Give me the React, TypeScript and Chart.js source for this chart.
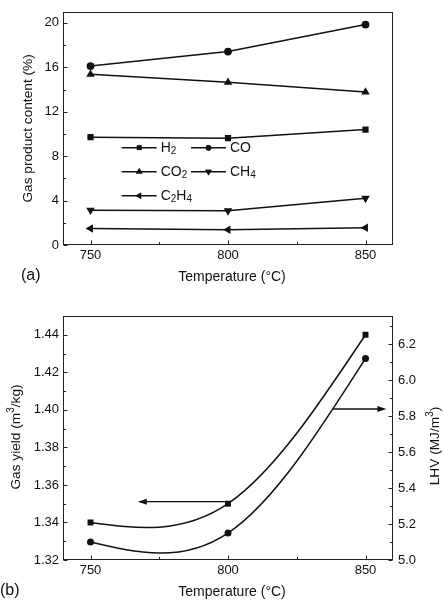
import React, { useEffect, useRef } from 'react';
import { Chart, registerables } from 'chart.js';
import { drawPoint } from 'chart.js/helpers';

Chart.register(...registerables);

// ---------------- data ----------------
const TEMPS = [750, 800, 850];
const H2 = [9.71, 9.62, 10.39];
const CO = [16.11, 17.42, 19.85];
const CO2 = [15.37, 14.65, 13.77];
const CH4 = [3.14, 3.08, 4.21];
const C2H4 = [1.48, 1.37, 1.56];

const GAS_YIELD = [1.34, 1.35, 1.44];
const LHV = [5.1, 5.15, 6.12];

const X_TICKS = [750, 800, 850];
const A_Y_TICKS = [0, 4, 8, 12, 16, 20];
const B_LEFT_TICKS = [1.32, 1.34, 1.36, 1.38, 1.4, 1.42, 1.44];
const B_RIGHT_TICKS = [5.0, 5.2, 5.4, 5.6, 5.8, 6.0, 6.2];

// annotation arrows, in data coordinates [temperature, value]
const ARROW_YIELD_FROM = [799.5, 1.3511];
const ARROW_YIELD_TO = [767.2, 1.3511];
const ARROW_LHV_FROM = [838.1, 5.839];
const ARROW_LHV_TO = [857.6, 5.839];

// ---------------- styles ----------------
const FONT = "'Liberation Sans', Arial, Helvetica, sans-serif";
const INK = '#111';
Chart.defaults.font.family = FONT;

type Part = { t: string; sub?: boolean; sup?: boolean };

function drawRich(ctx: CanvasRenderingContext2D, parts: Part[], x: number, y: number, size: number, align: 'left' | 'center') {
  const small = Math.round(size * 0.7);
  const widths = parts.map((p) => {
    ctx.font = `${p.sub || p.sup ? small : size}px ${FONT}`;
    return ctx.measureText(p.t).width;
  });
  const total = widths.reduce((a, b) => a + b, 0);
  let cx = align === 'center' ? x - total / 2 : x;
  ctx.textAlign = 'left';
  ctx.textBaseline = 'middle';
  parts.forEach((p, i) => {
    ctx.font = `${p.sub || p.sup ? small : size}px ${FONT}`;
    const dy = p.sub ? size * 0.28 : p.sup ? -size * 0.36 : 0;
    ctx.fillText(p.t, cx, y + dy);
    cx += widths[i];
  });
}

function drawRotated(ctx: CanvasRenderingContext2D, parts: Part[], x: number, y: number, size: number) {
  ctx.save();
  ctx.translate(x, y);
  ctx.rotate(-Math.PI / 2);
  drawRich(ctx, parts, 0, 0, size, 'center');
  ctx.restore();
}

function minorValues(major: number[], min: number, max: number) {
  const out: number[] = [];
  const step = major[1] - major[0];
  const cand = [major[0] - step / 2];
  for (let i = 0; i < major.length - 1; i++) cand.push((major[i] + major[i + 1]) / 2);
  cand.push(major[major.length - 1] + step / 2);
  cand.forEach((v) => {
    if (v >= min - 1e-9 && v <= max + 1e-9) out.push(v);
  });
  return out;
}

type AxisSpec = { id: string; side: 'left' | 'right' | 'bottom' };

function drawFrame(chart: any, axes: AxisSpec[]) {
  const { ctx, chartArea: a } = chart;
  ctx.save();
  ctx.strokeStyle = '#222';
  ctx.lineWidth = 1;
  const L = Math.round(a.left) + 0.5;
  const R = Math.round(a.right) - 0.5;
  const T = Math.round(a.top) + 0.5;
  const B = Math.round(a.bottom) - 0.5;
  ctx.strokeRect(L, T, R - L, B - T);
  axes.forEach((ax) => {
    const s = chart.scales[ax.id];
    const major = s.ticks.map((t: any) => t.value);
    const minor = minorValues(major, s.min, s.max);
    const draw = (v: number, len: number) => {
      const p = Math.round(s.getPixelForValue(v)) + 0.5;
      ctx.beginPath();
      if (ax.side === 'left') {
        ctx.moveTo(L, p);
        ctx.lineTo(L + len, p);
      } else if (ax.side === 'right') {
        ctx.moveTo(R, p);
        ctx.lineTo(R - len, p);
      } else {
        ctx.moveTo(p, B);
        ctx.lineTo(p, B - len);
      }
      ctx.stroke();
    };
    major.forEach((v: number) => draw(v, 4));
    minor.forEach((v: number) => draw(v, 2.5));
  });
  ctx.restore();
}

function drawArrow(ctx: CanvasRenderingContext2D, x1: number, y1: number, x2: number, y2: number) {
  const ang = Math.atan2(y2 - y1, x2 - x1);
  const c = Math.cos(ang);
  const s = Math.sin(ang);
  const L = 9;
  const W = 3;
  ctx.save();
  ctx.strokeStyle = INK;
  ctx.fillStyle = INK;
  ctx.lineWidth = 1.4;
  ctx.beginPath();
  ctx.moveTo(x1, y1);
  ctx.lineTo(x2 - L * 0.8 * c, y2 - L * 0.8 * s);
  ctx.stroke();
  ctx.beginPath();
  ctx.moveTo(x2, y2);
  ctx.lineTo(x2 - L * c + W * s, y2 - L * s - W * c);
  ctx.lineTo(x2 - L * c - W * s, y2 - L * s + W * c);
  ctx.closePath();
  ctx.fill();
  ctx.restore();
}

// natural cubic spline through the point elements (pixel space; affine-equivalent to data space)
function applyNaturalSpline(pts: any[]) {
  const n = pts.length;
  if (n < 2) return;
  const x = pts.map((p) => p.x);
  const y = pts.map((p) => p.y);
  const h: number[] = [];
  for (let i = 0; i < n - 1; i++) h.push(x[i + 1] - x[i]);
  const M = new Array(n).fill(0);
  const m = n - 2;
  if (m > 0) {
    const a: number[] = [], b: number[] = [], c: number[] = [], d: number[] = [];
    for (let i = 1; i < n - 1; i++) {
      a.push(h[i - 1]);
      b.push(2 * (h[i - 1] + h[i]));
      c.push(h[i]);
      d.push(6 * ((y[i + 1] - y[i]) / h[i] - (y[i] - y[i - 1]) / h[i - 1]));
    }
    for (let i = 1; i < m; i++) {
      const w = a[i] / b[i - 1];
      b[i] -= w * c[i - 1];
      d[i] -= w * d[i - 1];
    }
    const sol = new Array(m);
    sol[m - 1] = d[m - 1] / b[m - 1];
    for (let i = m - 2; i >= 0; i--) sol[i] = (d[i] - c[i] * sol[i + 1]) / b[i];
    for (let i = 0; i < m; i++) M[i + 1] = sol[i];
  }
  pts[0].cp1x = x[0];
  pts[0].cp1y = y[0];
  pts[n - 1].cp2x = x[n - 1];
  pts[n - 1].cp2y = y[n - 1];
  for (let i = 0; i < n - 1; i++) {
    const hh = h[i];
    const sl = (y[i + 1] - y[i]) / hh;
    const d0 = sl - (hh * (2 * M[i] + M[i + 1])) / 6;
    const d1 = sl + (hh * (M[i] + 2 * M[i + 1])) / 6;
    pts[i].cp2x = x[i] + hh / 3;
    pts[i].cp2y = y[i] + (d0 * hh) / 3;
    pts[i + 1].cp1x = x[i + 1] - hh / 3;
    pts[i + 1].cp1y = y[i + 1] - (d1 * hh) / 3;
  }
}

const splinePlugin = {
  id: 'naturalSpline',
  beforeDatasetDraw(chart: any, args: any) {
    const meta = chart.getDatasetMeta(args.index);
    if (!meta || !meta.dataset) return;
    applyNaturalSpline(meta.data as any[]);
    meta.dataset._pointsUpdated = true;
    meta.dataset._path = undefined;
  },
};

const tickFont = { size: 13, family: FONT };
const TITLE_SIZE = 14;

function fixedTicks(values: number[]) {
  return (s: any) => {
    s.ticks = values.map((v) => ({ value: v }));
  };
}

function series(values: number[]) {
  return TEMPS.map((t, i) => ({ x: t, y: values[i] }));
}

function ds(label: string, values: number[], pointStyle: string, radius: number, rotation = 0, extra: any = {}) {
  return {
    label,
    data: series(values),
    borderColor: INK,
    backgroundColor: INK,
    borderWidth: 1.5,
    pointStyle,
    pointRadius: radius,
    pointRotation: rotation,
    pointBorderWidth: 0,
    pointBackgroundColor: INK,
    tension: 0,
    ...extra,
  };
}

// legend entries of panel (a)
const LEGEND_A = [
  { parts: [{ t: 'H' }, { t: '2', sub: true }], style: 'rect', r: 3.3, rot: 0, col: 0, row: 0 },
  { parts: [{ t: 'CO' }], style: 'circle', r: 2.8, rot: 0, col: 1, row: 0 },
  { parts: [{ t: 'CO' }, { t: '2', sub: true }], style: 'triangle', r: 3.8, rot: 0, col: 0, row: 1 },
  { parts: [{ t: 'CH' }, { t: '4', sub: true }], style: 'triangle', r: 3.8, rot: 180, col: 1, row: 1 },
  { parts: [{ t: 'C' }, { t: '2', sub: true }, { t: 'H' }, { t: '4', sub: true }], style: 'triangle', r: 3.8, rot: 270, col: 0, row: 2 },
];

const decorA = {
  id: 'decorA',
  afterDraw(chart: any) {
    const { ctx, chartArea: a } = chart;
    drawFrame(chart, [
      { id: 'x', side: 'bottom' },
      { id: 'y', side: 'left' },
    ]);
    ctx.save();
    ctx.fillStyle = INK;
    drawRotated(ctx, [{ t: 'Gas product content (%)' }], 28, (a.top + a.bottom) / 2, 13.7);
    drawRich(ctx, [{ t: 'Temperature (°C)' }], 232, 277, TITLE_SIZE, 'center');
    drawRich(ctx, [{ t: '(a)' }], 21, 276, 16, 'left');
    // legend
    const colX = [a.left + 58.7, a.left + 128];
    const rowY = [147.7, 171.7, 195.7];
    LEGEND_A.forEach((e) => {
      const x0 = colX[e.col];
      const y0 = rowY[e.row];
      ctx.strokeStyle = INK;
      ctx.lineWidth = 1.5;
      ctx.beginPath();
      ctx.moveTo(x0, y0);
      ctx.lineTo(x0 + 35, y0);
      ctx.stroke();
      ctx.fillStyle = INK;
      drawPoint(ctx, { pointStyle: e.style as any, radius: e.r, rotation: e.rot, borderWidth: 0 }, x0 + 17.5, y0);
      ctx.fill();
      drawRich(ctx, e.parts, x0 + 39, y0, TITLE_SIZE, 'left');
    });
    ctx.restore();
  },
};

const decorB = {
  id: 'decorB',
  afterDraw(chart: any) {
    const { ctx, chartArea: a, scales } = chart;
    drawFrame(chart, [
      { id: 'x', side: 'bottom' },
      { id: 'y', side: 'left' },
      { id: 'y1', side: 'right' },
    ]);
    const sx = scales.x;
    const sy = scales.y;
    const sy1 = scales.y1;
    drawArrow(
      ctx,
      sx.getPixelForValue(ARROW_YIELD_FROM[0]),
      sy.getPixelForValue(ARROW_YIELD_FROM[1]),
      sx.getPixelForValue(ARROW_YIELD_TO[0]),
      sy.getPixelForValue(ARROW_YIELD_TO[1])
    );
    drawArrow(
      ctx,
      sx.getPixelForValue(ARROW_LHV_FROM[0]),
      sy1.getPixelForValue(ARROW_LHV_FROM[1]),
      sx.getPixelForValue(ARROW_LHV_TO[0]),
      sy1.getPixelForValue(ARROW_LHV_TO[1])
    );
    ctx.save();
    ctx.fillStyle = INK;
    drawRotated(ctx, [{ t: 'Gas yield (m' }, { t: '3', sup: true }, { t: '/kg)' }], 16, (a.top + a.bottom) / 2 - 1, 13.7);
    drawRotated(ctx, [{ t: 'LHV (MJ/m' }, { t: '3', sup: true }, { t: ')' }], 435, (a.top + a.bottom) / 2 + 8, 13.7);
    drawRich(ctx, [{ t: 'Temperature (°C)' }], 232, 292.5, TITLE_SIZE, 'center');
    drawRich(ctx, [{ t: '(b)' }], 0, 291, 16, 'left');
    ctx.restore();
  },
};

function xScale(height: number) {
  return {
    type: 'linear' as const,
    min: 740,
    max: 860,
    afterBuildTicks: fixedTicks(X_TICKS),
    afterFit: (s: any) => {
      s.height = height;
    },
    grid: { display: false, drawTicks: false },
    border: { display: false },
    ticks: { font: tickFont, color: INK, padding: 3, maxRotation: 0, autoSkip: false, callback: (v: any) => String(v) },
  };
}

export default function App() {
  const refA = useRef<HTMLCanvasElement>(null);
  const refB = useRef<HTMLCanvasElement>(null);

  useEffect(() => {
    const chartA = new Chart(refA.current as HTMLCanvasElement, {
      type: 'line',
      data: {
        datasets: [
          ds('H2', H2, 'rect', 4.4),
          ds('CO', CO, 'circle', 3.9),
          ds('CO2', CO2, 'triangle', 4.9),
          ds('CH4', CH4, 'triangle', 4.9, 180),
          ds('C2H4', C2H4, 'triangle', 4.9, 270),
        ] as any,
      },
      options: {
        responsive: false,
        animation: false,
        events: [],
        layout: { padding: { left: 0, right: 51, top: 0, bottom: 0 } },
        plugins: { legend: { display: false }, tooltip: { enabled: false } },
        scales: {
          x: xScale(55),
          y: {
            type: 'linear',
            min: 0,
            max: 21,
            afterBuildTicks: fixedTicks(A_Y_TICKS),
            afterFit: (s: any) => {
              s.width = 63;
            },
            grid: { display: false, drawTicks: false },
            border: { display: false },
            ticks: { font: tickFont, color: INK, padding: 4 },
          },
        } as any,
      },
      plugins: [decorA],
    });

    const chartB = new Chart(refB.current as HTMLCanvasElement, {
      type: 'line',
      data: {
        datasets: [
          ds('Gas yield', GAS_YIELD, 'rect', 4.2, 0, { yAxisID: 'y', tension: 0.4 }),
          ds('LHV', LHV, 'circle', 3.5, 0, { yAxisID: 'y1', tension: 0.4 }),
        ] as any,
      },
      options: {
        responsive: false,
        animation: false,
        events: [],
        layout: { padding: { left: 0, right: 0, top: 16, bottom: 0 } },
        plugins: { legend: { display: false }, tooltip: { enabled: false } },
        scales: {
          x: xScale(40),
          y: {
            type: 'linear',
            position: 'left',
            min: 1.32,
            max: 1.45,
            afterBuildTicks: fixedTicks(B_LEFT_TICKS),
            afterFit: (s: any) => {
              s.width = 63;
            },
            grid: { display: false, drawTicks: false },
            border: { display: false },
            ticks: { font: tickFont, color: INK, padding: 4, callback: (v: any) => Number(v).toFixed(2) },
          },
          y1: {
            type: 'linear',
            position: 'right',
            min: 5.0,
            max: 6.356,
            afterBuildTicks: fixedTicks(B_RIGHT_TICKS),
            afterFit: (s: any) => {
              s.width = 51;
            },
            grid: { display: false, drawTicks: false },
            border: { display: false },
            ticks: { font: tickFont, color: INK, padding: 5, callback: (v: any) => Number(v).toFixed(1) },
          },
        } as any,
      },
      plugins: [splinePlugin, decorB],
    });

    return () => {
      chartA.destroy();
      chartB.destroy();
    };
  }, []);

  return (
    <div style={{ position: 'absolute', left: 0, top: 0, width: 444, height: 600, background: '#fff' }}>
      <canvas ref={refA} width={444} height={300} style={{ position: 'absolute', left: 0, top: 0, width: 444, height: 300 }} />
      <canvas ref={refB} width={444} height={300} style={{ position: 'absolute', left: 0, top: 300, width: 444, height: 300 }} />
    </div>
  );
}
